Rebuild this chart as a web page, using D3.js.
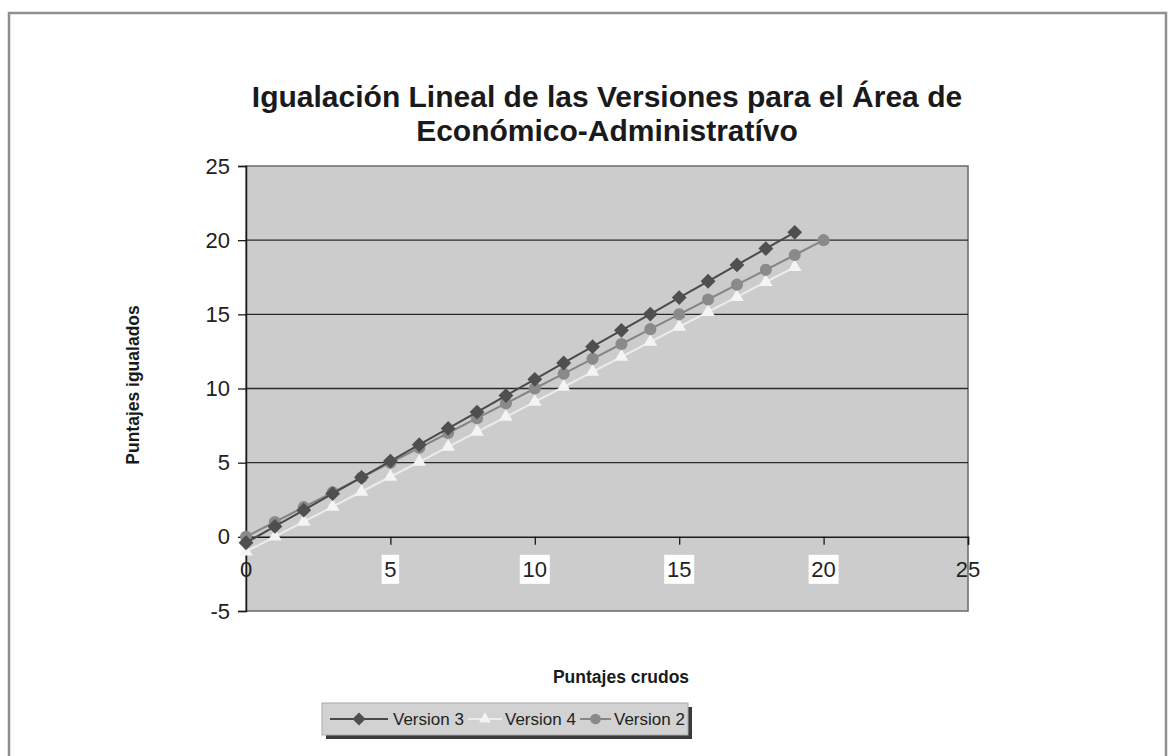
<!DOCTYPE html>
<html><head><meta charset="utf-8">
<script src="https://cdn.jsdelivr.net/npm/d3@7"></script>
<style>body{margin:0;background:#fff;} svg{display:block;font-family:"Liberation Sans",Arial,sans-serif;}</style>
</head><body>
<svg id="c" width="1174" height="756"></svg>
<script>
const titleLines = ["Igualación Lineal de las Versiones para el Área de", "Económico-Administratívo"];
const xLabel = "Puntajes crudos";
const yLabel = "Puntajes igualados";
const xTicks = [0, 5, 10, 15, 20, 25];
const yTicks = [-5, 0, 5, 10, 15, 20, 25];
const seriesNames = ["Version 3", "Version 4", "Version 2"];
const v3x = [0,1,2,3,4,5,6,7,8,9,10,11,12,13,14,15,16,17,18,19];
const v3y = [-0.40,0.70,1.80,2.91,4.01,5.11,6.21,7.31,8.41,9.52,10.62,11.72,12.82,13.92,15.02,16.13,17.23,18.33,19.43,20.53];
const v4x = [0,1,2,3,4,5,6,7,8,9,10,11,12,13,14,15,16,17,18,19];
const v4y = [-1.00,0.01,1.02,2.03,3.04,4.05,5.06,6.07,7.08,8.09,9.10,10.11,11.12,12.13,13.14,14.15,15.16,16.17,17.18,18.19];
const v2x = [0,1,2,3,4,5,6,7,8,9,10,11,12,13,14,15,16,17,18,19,20];
const v2y = [0,1,2,3,4,5,6,7,8,9,10,11,12,13,14,15,16,17,18,19,20];

const svg = d3.select("#c");
svg.append("rect").attr("x",9).attr("y",13).attr("width",1157).attr("height",745)
  .attr("fill","#fff").attr("stroke","#8f8f8f").attr("stroke-width",2.5);

const L=246, R=968, T=166, B=611;
const x = d3.scaleLinear().domain([0,25]).range([L,R]);
const y = d3.scaleLinear().domain([-5,25]).range([B,T]);

svg.append("rect").attr("x",L).attr("y",T).attr("width",R-L).attr("height",B-T)
  .attr("fill","#cccccc").attr("stroke","#6a6a6a").attr("stroke-width",1.5);

svg.append("g").selectAll("line").data(yTicks.filter(v=>v!==0 && v!==-5 && v!==25)).join("line")
  .attr("x1",L).attr("x2",R).attr("y1",d=>y(d)).attr("y2",d=>y(d))
  .attr("stroke","#2a2a2a").attr("stroke-width",1.3);

const yAxis = d3.axisLeft(y).tickValues(yTicks).tickSize(8).tickPadding(8).tickFormat(d=>String(d));
const gy = svg.append("g").attr("transform",`translate(${L},0)`).call(yAxis);
gy.attr("font-size",null).attr("font-family",null);
gy.select(".domain").attr("stroke","#1a1a1a").attr("stroke-width",1.5);
gy.selectAll(".tick line").attr("stroke","#1a1a1a").attr("stroke-width",1.3);
gy.selectAll(".tick text").style("font-size","22px").attr("fill","#222");

const xAxis = d3.axisBottom(x).tickValues(xTicks).tickSize(8).tickFormat("");
const gx = svg.append("g").attr("transform",`translate(0,${y(0)})`).call(xAxis);
gx.select(".domain").attr("stroke","#1a1a1a").attr("stroke-width",1.5);
gx.selectAll(".tick line").attr("stroke","#1a1a1a").attr("stroke-width",1.3);

const xl = svg.append("g");
xTicks.forEach(v=>{
  const cx = x(v), cy = y(0)+32;
  if (v!==0 && v!==25) {
    const w = String(v).length*12.5+5;
    xl.append("rect").attr("x",cx-w/2).attr("y",cy-14).attr("width",w).attr("height",29).attr("fill","#fff");
  }
  xl.append("text").attr("x",cx).attr("y",cy).attr("dy","0.35em").attr("text-anchor","middle")
    .style("font-size","22px").attr("fill","#222").text(String(v));
});

const line = d3.line().x(d=>x(d[0])).y(d=>y(d[1]));
const s3 = v3x.map((d,i)=>[d,v3y[i]]);
const s4 = v4x.map((d,i)=>[d,v4y[i]]);
const s2 = v2x.map((d,i)=>[d,v2y[i]]);

const styles = [
  {data:s4, stroke:"#ececec", fill:"#f4f4f4", sym:d3.symbolTriangle, size:80},
  {data:s2, stroke:"#858585", fill:"#8a8a8a", sym:d3.symbolCircle, size:115},
  {data:s3, stroke:"#4a4a4a", fill:"#4f4f4f", sym:d3.symbolDiamond2, size:140},
];
styles.forEach(s=>{
  svg.append("path").datum(s.data).attr("d",line).attr("fill","none")
    .attr("stroke",s.stroke).attr("stroke-width",2);
  svg.append("g").selectAll("path").data(s.data).join("path")
    .attr("transform",d=>`translate(${x(d[0])},${y(d[1])})`)
    .attr("d",d3.symbol().type(s.sym).size(s.size)).attr("fill",s.fill);
});

const tt = svg.append("text").attr("text-anchor","middle").attr("font-weight","bold")
  .style("font-size","30px").attr("fill","#1a1a1a");
tt.append("tspan").attr("x",607).attr("y",107).text(titleLines[0]);
tt.append("tspan").attr("x",607).attr("y",141).text(titleLines[1]);

svg.append("text").attr("x",621).attr("y",683).attr("text-anchor","middle")
  .attr("font-weight","bold").style("font-size","17.5px").attr("fill","#1a1a1a").text(xLabel);
svg.append("text").attr("transform","translate(139,385) rotate(-90)").attr("text-anchor","middle")
  .attr("font-weight","bold").style("font-size","17.5px").attr("fill","#1a1a1a").text(yLabel);

const lg = svg.append("g");
lg.append("rect").attr("x",326).attr("y",707).attr("width",366).attr("height",32).attr("fill","#3a3a3a");
lg.append("rect").attr("x",322).attr("y",703).attr("width",366).attr("height",32)
  .attr("fill","#d2d2d2").attr("stroke","#aaa").attr("stroke-width",1);
const legStyles = [
  {stroke:"#4a4a4a", fill:"#4f4f4f", sym:d3.symbolDiamond2, size:110, x0:330, x1:388, tx:393},
  {stroke:"#ececec", fill:"#f4f4f4", sym:d3.symbolTriangle, size:60, x0:468, x1:502, tx:505},
  {stroke:"#858585", fill:"#8a8a8a", sym:d3.symbolCircle, size:90, x0:580, x1:611, tx:614},
];
seriesNames.forEach((n,i)=>{
  const s = legStyles[i], cy = 719;
  lg.append("line").attr("x1",s.x0).attr("x2",s.x1).attr("y1",cy).attr("y2",cy)
    .attr("stroke",s.stroke).attr("stroke-width",2);
  lg.append("path").attr("transform",`translate(${(s.x0+s.x1)/2},${cy})`)
    .attr("d",d3.symbol().type(s.sym).size(s.size)).attr("fill",s.fill);
  lg.append("text").attr("x",s.tx).attr("y",cy).attr("dy","0.35em").style("font-size","17px")
    .attr("fill","#222").text(n);
});
</script>
</body></html>
